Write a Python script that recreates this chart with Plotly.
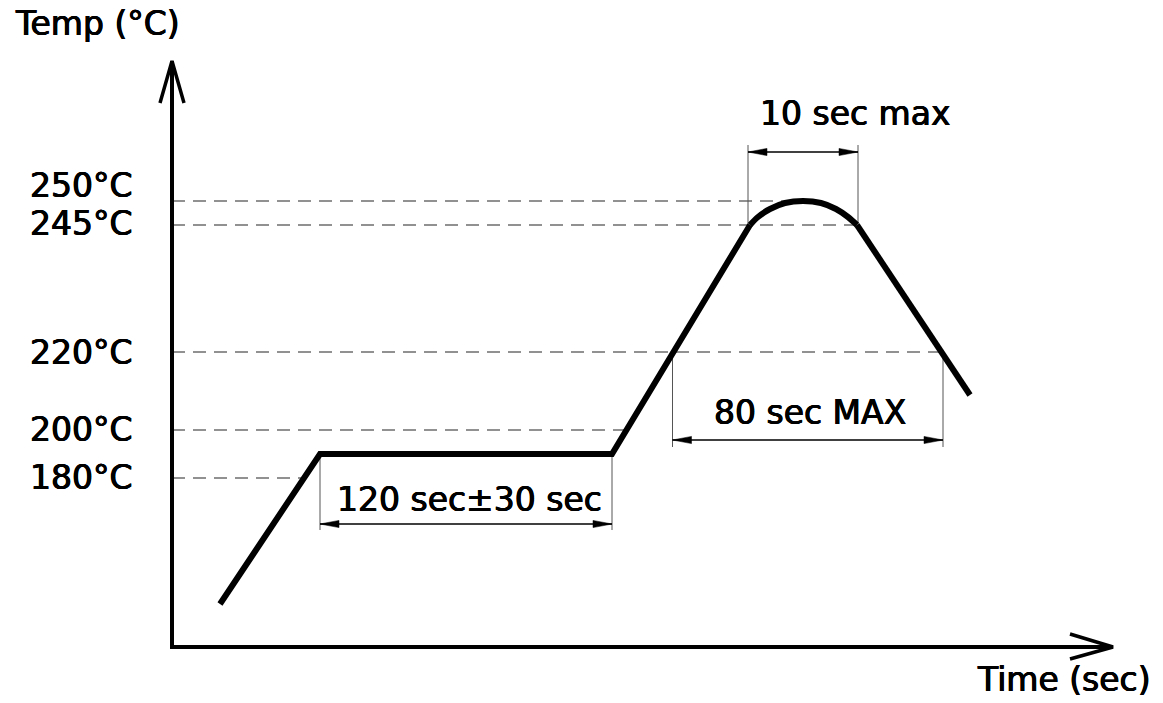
import plotly.graph_objects as go

# ---- schematic data (1 unit = 1 px on the drawing, origin at the axes corner) ----
# reflow profile (time, height)
ramp_t = [48, 148, 440, 578]
ramp_h = [43, 193, 193, 422]
peak_t = [578, 586, 598, 613, 631, 649, 664, 676, 685]
peak_h = [422, 430, 438, 444, 446, 444, 438, 430, 422]
cool_t = [685, 798]
cool_h = [422, 252]

# temperature reference levels
temp_labels = ["250°C", "245°C", "220°C", "200°C", "180°C"]
temp_level_h = [446, 422, 295, 217, 169]
temp_line_end_t = [631, 685, 771, 454, 132]
temp_label_h = [462, 424, 295, 218, 170]

# dimension callouts
dim_labels = ["120 sec±30 sec", "80 sec MAX", "10 sec max"]
dim_t0 = [148, 500.5, 576]
dim_t1 = [440, 771, 686]
dim_line_h = [123, 207, 495]
dim_ext_top = [193, 295, 502]
dim_ext_bot = [117, 200, 422]
dim_label_t = [297, 638, 683]
dim_label_h = [148, 235, 534]

# axes extents
x_axis_end = 941
y_axis_end = 586

FONT = dict(family="DejaVu Sans", size=33, color="black",
            shadow="0.5px 0 0 black, -0.5px 0 0 black, 0 0.4px 0 black")

fig = go.Figure()

def line(xs, ys, color="black", width=1, dash=None, shape="linear"):
    fig.add_trace(go.Scatter(x=xs, y=ys, mode="lines",
                             line=dict(color=color, width=width, dash=dash, shape=shape),
                             hoverinfo="skip", showlegend=False))

# dashed reference lines
for h, te in zip(temp_level_h, temp_line_end_t):
    line([0, te], [h, h], color="#6e6e6e", width=1.4, dash="13px,8px")

# dimension callouts
AL, AW = 19, 3.6
for lab, t0, t1, lh, et, eb, lt, lhh in zip(dim_labels, dim_t0, dim_t1, dim_line_h,
                                            dim_ext_top, dim_ext_bot, dim_label_t, dim_label_h):
    line([t0, t0], [et, eb], color="#555555", width=1)
    line([t1, t1], [et, eb], color="#555555", width=1)
    line([t0, t1], [lh, lh], color="black", width=1.3)
    for tip, d in ((t0, 1), (t1, -1)):
        fig.add_trace(go.Scatter(x=[tip, tip + d * AL, tip + d * AL, tip],
                                 y=[lh, lh + AW, lh - AW, lh],
                                 mode="lines", fill="toself", fillcolor="black",
                                 line=dict(color="black", width=0.5),
                                 hoverinfo="skip", showlegend=False))
    fig.add_annotation(x=lt, y=lhh, text=lab, showarrow=False, font=FONT,
                       xanchor="center", yanchor="middle")

# profile
line(ramp_t, ramp_h, width=6)
line(peak_t, peak_h, width=6, shape="spline")
line(cool_t, cool_h, width=6)

# axes with open arrowheads
line([0, 0, x_axis_end], [y_axis_end, 0, 0], width=4)
line([-12, 0, 12], [y_axis_end - 42, y_axis_end, y_axis_end - 42], width=3.5)
line([x_axis_end - 43, x_axis_end, x_axis_end - 43], [13, 0, -12], width=3.5)

# temperature labels
for lab, h in zip(temp_labels, temp_label_h):
    fig.add_annotation(x=-37, y=h, text=lab, showarrow=False, font=FONT,
                       xanchor="right", yanchor="middle")

# axis titles
fig.add_annotation(x=-159, y=624, text="Temp (°C)", showarrow=False, font=FONT,
                   xanchor="left", yanchor="middle")
fig.add_annotation(x=981, y=-32, text="Time (sec)", showarrow=False, font=FONT,
                   xanchor="right", yanchor="middle")

fig.update_layout(
    width=1163, height=703,
    margin=dict(l=0, r=0, t=0, b=0),
    paper_bgcolor="white", plot_bgcolor="white",
    xaxis=dict(range=[-172, 991], visible=False, fixedrange=True),
    yaxis=dict(range=[-56, 647], visible=False, fixedrange=True),
    showlegend=False,
)

fig.write_html("out.html", config={"displayModeBar": False},
               post_script="document.body.style.margin='0';document.body.style.overflow='hidden';")
